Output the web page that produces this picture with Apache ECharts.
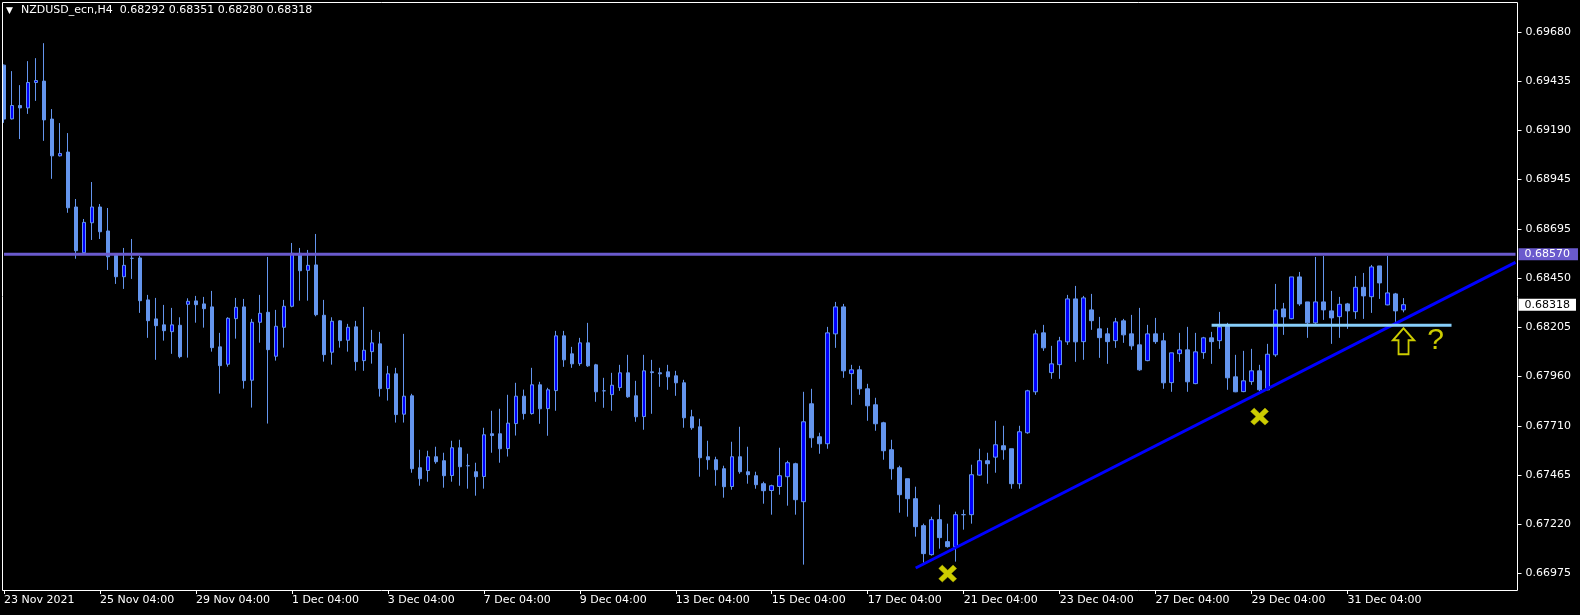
<!DOCTYPE html>
<html>
<head>
<meta charset="utf-8">
<script src="https://cdn.jsdelivr.net/npm/echarts@6/dist/echarts.min.js"></script>
<style>
html,body{margin:0;padding:0;background:#000;}
#chart{width:1580px;height:615px;}
</style>
</head>
<body>
<div id="chart"></div>
<script>
// ---- data (NZDUSD_ecn, H4) ----
const symbolName = 'NZDUSD_ecn,H4';
const openPrices = [
0.69517,0.69248,0.69315,0.69303,0.69430,0.69437,0.69247,0.69063,0.69082,0.68807,
0.68578,0.68728,0.68807,0.68687,0.68565,0.68458,0.68550,0.68552,0.68342,0.68247,
0.68217,0.68183,0.68215,0.68320,0.68337,0.68322,0.68307,0.68107,0.68020,0.68248,
0.68307,0.67940,0.68230,0.68280,0.68060,0.68205,0.68310,0.68575,0.68490,0.68517,
0.68265,0.68080,0.68237,0.68140,0.68207,0.68038,0.68083,0.68122,0.67898,0.67972,
0.67770,0.67862,0.67502,0.67488,0.67557,0.67537,0.67463,0.67602,0.67512,0.67482,
0.67458,0.67672,0.67672,0.67598,0.67723,0.67860,0.67773,0.67917,0.67798,0.67888,
0.68162,0.68072,0.68023,0.68127,0.68017,0.67887,0.67868,0.67903,0.67977,0.67862,
0.67758,0.67982,0.67977,0.67982,0.67962,0.67927,0.67757,0.67707,0.67557,0.67542,
0.67497,0.67408,0.67557,0.67482,0.67462,0.67422,0.67388,0.67408,0.67457,0.67522,
0.67332,0.67822,0.67657,0.67622,0.68172,0.68307,0.67973,0.67992,0.67897,0.67817,
0.67727,0.67592,0.67502,0.67447,0.67347,0.67212,0.67067,0.67242,0.67132,0.67107,
0.67267,0.67267,0.67465,0.67537,0.67555,0.67612,0.67597,0.67422,0.67677,0.67882,
0.68177,0.67978,0.68018,0.68132,0.68347,0.68133,0.68292,0.68197,0.68172,0.68138,
0.68237,0.68172,0.68117,0.68038,0.68172,0.68137,0.67928,0.68073,0.68092,0.67923,
0.68078,0.68152,0.68138,0.68212,0.67957,0.67883,0.67933,0.67987,0.67892,0.68067,
0.68297,0.68248,0.68457,0.68332,0.68227,0.68332,0.68287,0.68258,0.68322,0.68283,
0.68405,0.68358,0.68512,0.68317,0.68372,0.68292
];
const highPrices = [
0.69520,0.69487,0.69417,0.69537,0.69552,0.69627,0.69297,0.69227,0.69177,0.68847,
0.68747,0.68932,0.68822,0.68802,0.68570,0.68602,0.68647,0.68562,0.68367,0.68352,
0.68317,0.68302,0.68255,0.68350,0.68362,0.68357,0.68387,0.68177,0.68255,0.68352,
0.68347,0.68247,0.68367,0.68557,0.68292,0.68342,0.68627,0.68602,0.68592,0.68672,
0.68342,0.68255,0.68240,0.68222,0.68237,0.68307,0.68192,0.68182,0.68012,0.68002,
0.68172,0.67872,0.67592,0.67587,0.67607,0.67577,0.67637,0.67642,0.67572,0.67527,
0.67702,0.67787,0.67797,0.67867,0.67927,0.67893,0.68002,0.67932,0.67902,0.68187,
0.68187,0.68107,0.68152,0.68227,0.68022,0.67952,0.67977,0.68017,0.68067,0.67937,
0.68067,0.68042,0.68002,0.68017,0.67987,0.67942,0.67792,0.67747,0.67637,0.67557,
0.67512,0.67632,0.67707,0.67607,0.67482,0.67432,0.67417,0.67602,0.67537,0.67527,
0.67882,0.67897,0.67677,0.68207,0.68332,0.68322,0.68017,0.68012,0.67922,0.67852,
0.67732,0.67642,0.67512,0.67447,0.67407,0.67222,0.67257,0.67317,0.67222,0.67282,
0.67292,0.67517,0.67597,0.67577,0.67737,0.67712,0.67597,0.67712,0.67892,0.68192,
0.68217,0.68112,0.68157,0.68367,0.68412,0.68362,0.68372,0.68257,0.68202,0.68252,
0.68247,0.68267,0.68302,0.68217,0.68252,0.68177,0.68077,0.68177,0.68207,0.68177,
0.68157,0.68182,0.68282,0.68227,0.68067,0.68087,0.68097,0.68017,0.68122,0.68422,
0.68327,0.68457,0.68482,0.68332,0.68557,0.68562,0.68387,0.68357,0.68327,0.68462,
0.68477,0.68517,0.68512,0.68562,0.68377,0.68351
];
const lowPrices = [
0.69228,0.69245,0.69147,0.69273,0.69338,0.69138,0.68948,0.69060,0.68778,0.68548,
0.68575,0.68642,0.68647,0.68492,0.68422,0.68397,0.68447,0.68277,0.68152,0.68042,
0.68138,0.68072,0.68050,0.68053,0.68228,0.68203,0.68083,0.67873,0.68008,0.68148,
0.67898,0.67803,0.68128,0.67723,0.68038,0.68103,0.68305,0.68338,0.68338,0.68260,
0.68033,0.68018,0.68103,0.68083,0.67988,0.67987,0.68023,0.67858,0.67838,0.67728,
0.67728,0.67477,0.67412,0.67432,0.67522,0.67402,0.67432,0.67412,0.67397,0.67362,
0.67397,0.67577,0.67527,0.67558,0.67663,0.67743,0.67768,0.67722,0.67662,0.67787,
0.68007,0.68002,0.68012,0.68007,0.67832,0.67802,0.67787,0.67887,0.67852,0.67732,
0.67692,0.67772,0.67907,0.67892,0.67862,0.67702,0.67692,0.67457,0.67492,0.67412,
0.67352,0.67392,0.67472,0.67422,0.67397,0.67322,0.67267,0.67367,0.67312,0.67267,
0.67017,0.67602,0.67572,0.67597,0.68102,0.67952,0.67817,0.67867,0.67737,0.67687,
0.67542,0.67442,0.67277,0.67257,0.67157,0.67027,0.67062,0.67097,0.67102,0.67032,
0.67192,0.67222,0.67462,0.67422,0.67477,0.67542,0.67397,0.67397,0.67672,0.67867,
0.68087,0.67947,0.67947,0.68117,0.68032,0.68042,0.68192,0.68052,0.68022,0.68102,
0.68127,0.68092,0.67987,0.68035,0.68122,0.67897,0.67882,0.68032,0.67882,0.67920,
0.68047,0.68022,0.68097,0.67892,0.67880,0.67880,0.67917,0.67885,0.67890,0.68057,
0.68167,0.68245,0.68312,0.68152,0.68222,0.68242,0.68122,0.68152,0.68197,0.68247,
0.68247,0.68277,0.68347,0.68315,0.68232,0.68280
];
const closePrices = [
0.69247,0.69315,0.69303,0.69430,0.69440,0.69243,0.69063,0.69075,0.68803,0.68588,
0.68730,0.68807,0.68683,0.68558,0.68458,0.68515,0.68550,0.68338,0.68238,0.68213,
0.68188,0.68217,0.68058,0.68335,0.68318,0.68298,0.68103,0.68013,0.68250,0.68305,
0.67938,0.68230,0.68275,0.68093,0.68210,0.68310,0.68575,0.68488,0.68515,0.68268,
0.68068,0.68235,0.68138,0.68205,0.68033,0.68090,0.68127,0.67898,0.67972,0.67768,
0.67860,0.67497,0.67447,0.67557,0.67532,0.67462,0.67602,0.67507,0.67512,0.67457,
0.67667,0.67663,0.67597,0.67725,0.67860,0.67773,0.67917,0.67797,0.67892,0.68162,
0.68042,0.68022,0.68127,0.68012,0.67882,0.67887,0.67915,0.67977,0.67857,0.67757,
0.67987,0.67978,0.67972,0.67957,0.67927,0.67752,0.67702,0.67552,0.67542,0.67492,
0.67407,0.67557,0.67482,0.67467,0.67417,0.67387,0.67412,0.67462,0.67527,0.67342,
0.67732,0.67652,0.67622,0.68177,0.68307,0.67987,0.67992,0.67897,0.67812,0.67722,
0.67587,0.67497,0.67367,0.67347,0.67207,0.67072,0.67242,0.67152,0.67107,0.67267,
0.67267,0.67467,0.67537,0.67522,0.67617,0.67592,0.67422,0.67682,0.67887,0.68172,
0.68102,0.68022,0.68137,0.68347,0.68132,0.68352,0.68238,0.68153,0.68133,0.68232,
0.68167,0.68112,0.67992,0.68172,0.68133,0.67927,0.68077,0.68092,0.67932,0.68082,
0.68152,0.68133,0.68207,0.67952,0.67882,0.67937,0.67987,0.67892,0.68070,0.68292,
0.68257,0.68457,0.68322,0.68227,0.68332,0.68292,0.68252,0.68320,0.68287,0.68405,
0.68362,0.68507,0.68427,0.68377,0.68287,0.68318
];
const timeLabels = ['23 Nov 2021','25 Nov 04:00','29 Nov 04:00','1 Dec 04:00','3 Dec 04:00',
  '7 Dec 04:00','9 Dec 04:00','13 Dec 04:00','15 Dec 04:00','17 Dec 04:00','21 Dec 04:00',
  '23 Dec 04:00','27 Dec 04:00','29 Dec 04:00','31 Dec 04:00'];
const priceTicks = [0.69680,0.69435,0.69190,0.68945,0.68695,0.68450,0.68205,0.67960,0.67710,0.67465,0.67220,0.66975];
const resistanceLevel = 0.68570;
const lastPrice = closePrices[closePrices.length - 1];
const trendLine = [[114, 0.67000], [189, 0.68530]];
const supportLine = [[151, 0.68215], [181, 0.68215]];
const crossMarks = [[118, 0.66972], [157, 0.67758]];
const arrowMarks = [[175, 0.68135]];
const questionMarks = [[179, 0.68137]];
const SLOTS = 190;
const BARS_PER_LABEL = 12;

// ---- chart ----
const candleData = openPrices.map((o, i) => [o, closePrices[i], lowPrices[i], highPrices[i]]);
const categories = Array.from({length: SLOTS}, (_, i) => String(i));
const isLabelSlot = i => i % BARS_PER_LABEL === 0 && (i / BARS_PER_LABEL) < timeLabels.length;
const FONT = 'DejaVu Sans';
const last = openPrices.length - 1;
const titleText = symbolName + '  ' + [openPrices[last], highPrices[last], lowPrices[last], closePrices[last]].map(v => v.toFixed(5)).join(' ');
const resistanceData = [[0, resistanceLevel], [SLOTS - 1, resistanceLevel]];
const lastPriceData = [[SLOTS - 2, lastPrice], [SLOTS - 1, lastPrice]];

const chart = echarts.init(document.getElementById('chart'), null, {renderer: 'canvas'});
chart.setOption({
  backgroundColor: '#000',
  animation: false,
  textStyle: {fontFamily: FONT},
  grid: {left: -0.5, right: 60.5, top: 2, bottom: 25, containLabel: false},
  xAxis: {
    type: 'category', data: categories, boundaryGap: true,
    axisLine: {show: false},
    axisTick: {show: true, interval: (i) => isLabelSlot(i), alignWithLabel: true, length: 4, lineStyle: {color: '#fff'}},
    axisLabel: {interval: (i) => isLabelSlot(i), formatter: (v, i) => timeLabels[i / BARS_PER_LABEL] || '',
      align: 'left', color: '#fff', fontSize: 11, fontFamily: FONT, margin: 5},
    splitLine: {show: false}
  },
  yAxis: {
    type: 'value', position: 'right', min: 0.66890, max: 0.69833, offset: -2,
    axisLine: {show: false},
    axisTick: {show: true, customValues: priceTicks, length: 4, lineStyle: {color: '#fff'}},
    axisLabel: {customValues: priceTicks, formatter: v => v.toFixed(5), color: '#fff', fontSize: 11, fontFamily: FONT, margin: 8},
    splitLine: {show: false}
  },
  series: [
    {
      type: 'candlestick', data: candleData, barWidth: 4, z: 2,
      itemStyle: {color: '#0000FF', color0: '#6495ED', borderColor: '#6495ED', borderColor0: '#6495ED', borderWidth: 1}
    },
    {
      type: 'line', data: resistanceData, symbol: 'none', z: 5, silent: true,
      lineStyle: {color: '#6A5ACD', width: 3},
      endLabel: {show: true, distance: 3, formatter: resistanceLevel.toFixed(5),
        color: '#fff', backgroundColor: '#6A5ACD', padding: [1, 8, 0, 6], fontSize: 11, fontFamily: FONT}
    },
    {
      type: 'line', data: lastPriceData, symbol: 'none', z: 5, silent: true,
      lineStyle: {color: 'rgba(0,0,0,0)', width: 1},
      endLabel: {show: true, distance: 3, formatter: lastPrice.toFixed(5),
        color: '#000', backgroundColor: '#fff', padding: [1, 6, 0, 6], fontSize: 11, fontFamily: FONT}
    },
    {type: 'line', data: trendLine, symbol: 'none', z: 6, silent: true, lineStyle: {color: '#0000FF', width: 3}},
    {type: 'line', data: supportLine, symbol: 'none', z: 6, silent: true, lineStyle: {color: '#87CEFA', width: 3}},
    {type: 'scatter', data: crossMarks, z: 7,
     symbol: 'path://M0,4 L4,0 L10,6 L16,0 L20,4 L14,10 L20,16 L16,20 L10,14 L4,20 L0,16 L6,10 Z',
     symbolSize: [18, 17], itemStyle: {color: '#FFFF00', borderColor: '#B8B800', borderWidth: 0.5}},
    {type: 'scatter', data: arrowMarks, z: 7,
     symbol: 'path://M10.5,0 L21,12 L15.5,12 L15.5,26 L5.5,26 L5.5,12 L0,12 Z',
     symbolSize: [21, 26], itemStyle: {color: '#000', borderColor: '#FFFF00', borderWidth: 2}},
    {type: 'scatter', data: questionMarks, z: 7, symbolSize: 1, itemStyle: {color: 'rgba(0,0,0,0)'},
     label: {show: true, position: 'inside', formatter: '?', color: '#FFFF00', fontSize: 30, fontFamily: 'Liberation Sans'}}
  ],
  graphic: [
    {type: 'rect', silent: true, z: 100, shape: {x: 2.5, y: 2.5, width: 1515, height: 588},
     style: {fill: null, stroke: '#fff', lineWidth: 1}},
    {type: 'text', silent: true, z: 100, left: 6, top: 6, style: {text: '\u25BC', fill: '#fff', font: '9px ' + FONT}},
    {type: 'text', silent: true, z: 100, left: 21, top: 5, style: {text: titleText, fill: '#fff', font: '11px ' + FONT}}
  ]
});
</script>
</body>
</html>
